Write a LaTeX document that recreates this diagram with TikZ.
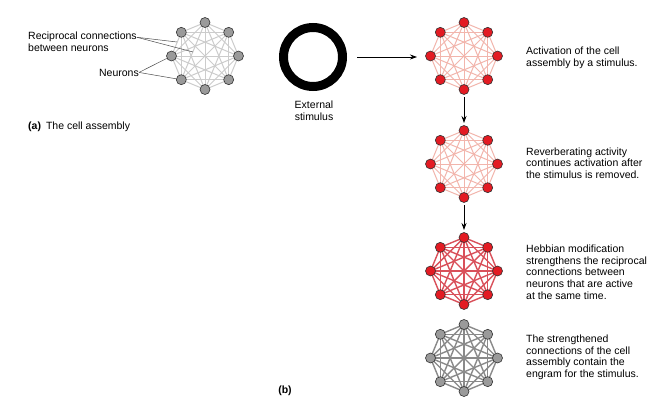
\documentclass[tikz,border=0pt]{standalone}
\usepackage{fontspec}
\setmainfont{Liberation Sans}
\usetikzlibrary{arrows.meta,calc}
\definecolor{edgegray}{HTML}{CCCCCC}
\definecolor{edgepink}{HTML}{F2B5AC}
\definecolor{edgered}{HTML}{D9505A}
\definecolor{edgedark}{HTML}{8A8A8A}
\definecolor{nodered}{HTML}{E31B23}
\definecolor{nodegray}{HTML}{9A9A9A}
\tikzset{
  neuron/.style={circle,draw=black!80,line width=0.6pt,minimum size=10pt,inner sep=0pt},
  lbl/.style={font=\fontsize{10.5}{11.8}\selectfont,align=left,inner sep=0pt},
  arr/.style={-{Stealth[length=7pt,width=5pt]},line width=0.8pt},
  leader/.style={draw=black!70,line width=0.5pt}
}
\newcommand{\assembly}[5]{% name, cx, cy, edge style, node fill
  \foreach \i in {0,...,7}{
    \coordinate (#1c\i) at ($(#2,#3)+({90+45*\i}:33.5)$);
  }
  \foreach \i in {0,...,6}{
    \pgfmathtruncatemacro{\s}{\i+1}
    \foreach \j in {\s,...,7}{
      \draw[#4] (#1c\i) -- (#1c\j);
    }
  }
  \foreach \i in {0,...,7}{
    \node[neuron,fill=#5] (#1n\i) at (#1c\i) {};
  }
}
\begin{document}
\begin{tikzpicture}[x=1pt,y=-1pt]
\useasboundingbox (0,0) rectangle (668,404);
\fill[white] (0,0) rectangle (668,404);

% (a)
\assembly{A}{205}{56}{edgegray,line width=1pt}{nodegray}
\node[lbl,anchor=base west] (rc1) at (28,40) {Reciprocal connections};
\node[lbl,anchor=base west] (rc2) at (28,52) {between neurons};
\node[lbl,anchor=base east] (neu) at (139,76) {Neurons};
\coordinate (rcend1) at (177,42);
\coordinate (rcend2) at (193,52);
\draw[leader] (rc1.east) -- (rcend1);
\draw[leader] (rc1.east) -- (rcend2);
\draw[leader] (neu.east) -- (An2);
\draw[leader] (neu.east) -- (An1);
\node[lbl,anchor=base west] (capa) at (28,129) {\textbf{(a)}\hspace{5pt}The cell assembly};

% stimulus
\node[circle,draw=black,line width=9pt,minimum size=59pt,inner sep=0pt] (stim) at (313,57) {};
\node[lbl,align=center,anchor=base] (stimtxt) at (314,120) {External\\stimulus};

% (b)
\assembly{B}{464}{56}{edgepink,line width=1pt}{nodered}
\assembly{C}{464}{164}{edgepink,line width=1pt}{nodered}
\assembly{D}{464}{271}{edgered,line width=1.4pt}{nodered}
\assembly{E}{464}{358}{edgedark,line width=1.4pt}{nodegray}

\coordinate (stimarrow) at (357,57);
\coordinate (stimhead) at (417,57);
\draw[arr] (stimarrow) -- (stimhead);
\coordinate (a1s) at (464,97);
\coordinate (a1e) at (464,123);
\coordinate (a2s) at (464,205);
\coordinate (a2e) at (464,230);
\draw[arr] (a1s) -- (a1e);
\draw[arr] (a2s) -- (a2e);

\node[lbl,anchor=base west] (tB) at (526,66.3) {Activation of the cell\\assembly by a stimulus.};
\node[lbl,anchor=base west] (tC) at (526,178.6) {Reverberating activity\\continues activation after\\the stimulus is removed.};
\node[lbl,anchor=base west] (tD) at (526,299.5) {Hebbian modification\\strengthens the reciprocal\\connections between\\neurons that are active\\at the same time.};
\node[lbl,anchor=base west] (tE) at (526,377.7) {The strengthened\\connections of the cell\\assembly contain the\\engram for the stimulus.};
\node[lbl,anchor=base] (capb) at (285,393) {\textbf{(b)}};
\end{tikzpicture}
\end{document}
